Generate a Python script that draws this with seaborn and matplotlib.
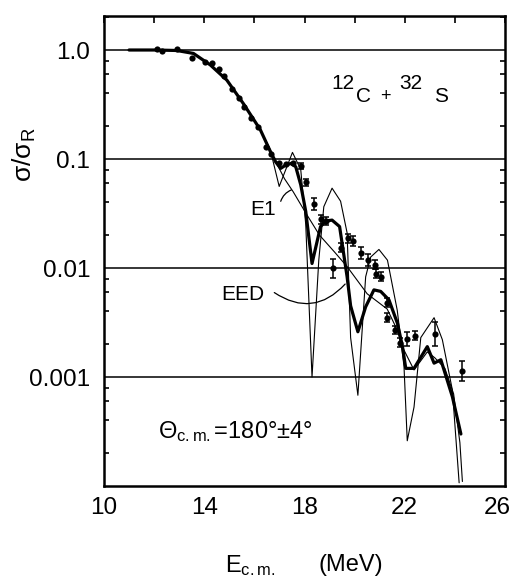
import numpy as np
import matplotlib
matplotlib.use("Agg")
import matplotlib.pyplot as plt
import matplotlib.transforms as mtransforms
import seaborn as sns

# ---- measured back-angle excitation function, 12C + 32S ----
e_data = [12.13, 12.32, 12.93, 13.52, 14.01, 14.31, 14.60, 14.80, 15.12, 15.39,
          15.60, 15.88, 16.15, 16.47, 16.67, 16.97, 17.27, 17.55, 17.86, 18.04,
          18.36, 18.64, 18.84, 19.12, 19.44, 19.73, 19.93, 20.24, 20.53, 20.81,
          20.84, 21.04, 21.31, 21.31, 21.60, 21.81, 22.10, 22.40, 23.20, 24.28]
sig_data = [1.02, 0.97, 1.02, 0.85, 0.77, 0.755, 0.665, 0.58, 0.44, 0.36,
            0.30, 0.236, 0.195, 0.13, 0.111, 0.091, 0.090, 0.0925, 0.086, 0.061,
            0.039, 0.028, 0.027, 0.0099, 0.0154, 0.0187, 0.0178, 0.0136, 0.0118, 0.0107,
            0.0089, 0.0083, 0.0048, 0.0035, 0.0027, 0.00206, 0.00222, 0.0024, 0.00248, 0.00114]
# uncertainties in decades (log10 units)
err_dex = [0, 0, 0, 0, 0, 0, 0, 0, 0, 0,
           0, 0, 0, 0, 0, 0, 0, 0, 0.03, 0.035,
           0.055, 0.04, 0.04, 0.085, 0.04, 0.04, 0.045, 0.055, 0.055, 0.04,
           0.04, 0.04, 0.04, 0.04, 0.04, 0.04, 0.065, 0.04, 0.11, 0.09]

# ---- model calculations ----
e_eed = [11.0, 12.0, 12.9, 13.57, 14.24, 14.9, 15.57, 16.24, 16.64, 16.85,
         17.05, 17.25, 17.45, 17.65, 17.85, 18.05, 18.3, 18.64, 18.85, 19.1,
         19.4, 19.7, 19.84, 20.13, 20.44, 20.77, 21.04, 21.37, 21.71, 21.91,
         22.04, 22.37, 22.9, 23.17, 23.44, 23.9, 24.24]
sig_eed = [1.0, 1.0, 0.99, 0.93, 0.73, 0.53, 0.32, 0.185, 0.117, 0.094,
           0.082, 0.088, 0.091, 0.085, 0.058, 0.033, 0.011, 0.024, 0.027, 0.0275,
           0.024, 0.0083, 0.0045, 0.0026, 0.0044, 0.0063, 0.0061, 0.0051, 0.0031, 0.0019,
           0.0012, 0.0012, 0.0019, 0.00134, 0.00144, 0.00066, 0.0003]

e_e1 = [11.0, 12.0, 12.9, 13.57, 14.24, 14.9, 15.57, 16.24, 16.64, 16.9,
        17.2, 17.55, 18.05, 18.6, 19.2, 19.7, 20.5, 21.3, 21.7, 21.9,
        22.37, 22.9, 23.2, 23.6, 23.95, 24.2, 24.3]
sig_e1 = [1.0, 1.0, 0.99, 0.93, 0.73, 0.53, 0.32, 0.185, 0.12, 0.09,
          0.066, 0.05, 0.032, 0.02, 0.014, 0.0103, 0.0058, 0.0042, 0.0027, 0.0019,
          0.00116, 0.0017, 0.0015, 0.0012, 0.0007, 0.00025, 0.00011]

e_osc = [11.0, 12.0, 12.9, 13.57, 14.24, 14.9, 15.57, 16.24, 16.64, 16.99,
         17.52, 17.85, 18.05, 18.3, 18.57, 18.77, 19.1, 19.44, 19.7, 19.84,
         20.13, 20.44, 20.64, 20.97, 21.31, 21.7, 21.97, 22.1, 22.37, 22.64,
         23.17, 23.5, 23.9, 24.17]
sig_osc = [1.0, 1.0, 0.99, 0.93, 0.73, 0.53, 0.32, 0.185, 0.12, 0.056,
           0.115, 0.08, 0.025, 0.001, 0.0118, 0.0365, 0.054, 0.041, 0.021, 0.0023,
           0.00068, 0.0083, 0.0126, 0.0148, 0.0118, 0.0041, 0.00125, 0.00026, 0.00053, 0.0023,
           0.0035, 0.0022, 0.00076, 0.000107]

x_ticks = [10, 12, 14, 16, 18, 20, 22, 24, 26]
x_ticklabels = ["10", "", "14", "", "18", "", "22", "", "26"]
y_ticks = [0.001, 0.01, 0.1, 1.0]
y_ticklabels = ["0.001", "0.01", "0.1", "1.0"]

sns.set_theme(style="white")
plt.rcParams["font.family"] = ["Liberation Sans", "DejaVu Sans"]
plt.rcParams["mathtext.fontset"] = "custom"
plt.rcParams["mathtext.rm"] = "Liberation Sans"
plt.rcParams["mathtext.it"] = "Liberation Sans"
plt.rcParams["mathtext.bf"] = "Liberation Sans"
plt.rcParams["text.color"] = "black"
plt.rcParams["axes.labelcolor"] = "black"
plt.rcParams["xtick.color"] = "black"
plt.rcParams["ytick.color"] = "black"

W, H = 513, 580
fig = plt.figure(figsize=(W / 100, H / 100), dpi=100)
fig.patch.set_facecolor("white")
ax = fig.add_axes([104 / W, 1 - 486 / H, (505 - 104) / W, (486 - 16) / H])
ax.set_yscale("log")
ax.set_xlim(10, 26)
ax.set_ylim(1e-4, 10 ** 0.312)

# decade lines across the frame
for yv in y_ticks:
    ax.axhline(yv, color="black", lw=1.1, zorder=1)

sns.lineplot(x=e_osc, y=sig_osc, ax=ax, color="black", lw=0.8,
             estimator=None, sort=False, zorder=2)
sns.lineplot(x=e_e1, y=sig_e1, ax=ax, color="black", lw=0.8,
             estimator=None, sort=False, zorder=2)
sns.lineplot(x=e_eed, y=sig_eed, ax=ax, color="black", lw=2.3,
             estimator=None, sort=False, zorder=3)

e_arr = np.array(e_data)
s_arr = np.array(sig_data)
d_arr = np.array(err_dex)
has_err = d_arr > 0
lo = s_arr * (1 - 10 ** (-d_arr))
hi = s_arr * (10 ** d_arr - 1)
ax.errorbar(e_arr[has_err], s_arr[has_err], yerr=[lo[has_err], hi[has_err]],
            fmt="none", ecolor="black", elinewidth=1.1, capsize=2.2, capthick=1.1, zorder=4)
sns.scatterplot(x=e_data, y=sig_data, ax=ax, color="black", s=20,
                edgecolor="black", linewidth=0, zorder=5)

# axes styling
for sp in ax.spines.values():
    sp.set_visible(True)
    sp.set_color("black")
    sp.set_linewidth(1.8)
ax.set_xticks(x_ticks)
ax.set_xticklabels(x_ticklabels)
ax.set_yticks(y_ticks)
ax.set_yticklabels(y_ticklabels)
ax.yaxis.set_minor_locator(matplotlib.ticker.LogLocator(base=10, subs=(2, 4, 6, 8), numticks=20))
ax.yaxis.set_minor_formatter(matplotlib.ticker.NullFormatter())
ax.tick_params(axis="both", which="major", direction="in", length=5, width=1.2,
               top=True, right=True, labelsize=17.5, pad=8, colors="black")
ax.tick_params(axis="y", which="minor", direction="in", length=3.5, width=1.2,
               left=True, right=True)
ax.tick_params(axis="y", which="major", length=0, pad=10)
ax.grid(False)
ax.set_xlabel("")
ax.set_ylabel("")

# keep the last energy label inside the frame edge
last = ax.get_xticklabels()[-1]
last.set_transform(last.get_transform() + mtransforms.ScaledTranslation(-8 / 100, 0, fig.dpi_scale_trans))


def px(x, y):
    return x / W, 1 - y / H


# axis titles
fig.text(*px(24, 155), r"$\mathrm{σ/σ}_{\mathrm{R}}$", rotation=90, fontsize=19,
         ha="center", va="center")
fig.text(*px(225, 572), r"E$_{\mathrm{c.m.}}$", fontsize=17, ha="left", va="baseline")
fig.text(*px(318, 571), "(MeV)", fontsize=17, ha="left", va="baseline")

# reaction label
fs = 15
fig.text(*px(331, 89), "12", fontsize=fs, ha="left", va="baseline")
fig.text(*px(356, 102), "C", fontsize=fs, ha="left", va="baseline")
fig.text(*px(385, 101), "+", fontsize=fs - 2, ha="center", va="baseline")
fig.text(*px(399, 89), "32", fontsize=fs, ha="left", va="baseline")
fig.text(*px(434, 102), "S", fontsize=fs, ha="left", va="baseline")

# angle label
fig.text(*px(158, 438), r"Θ$_{\mathrm{c.m.}}$=180°±4°", fontsize=17,
         ha="left", va="baseline")

# curve labels with leaders
fig.text(*px(250, 215), "E1", fontsize=15, ha="left", va="baseline")
fig.text(*px(221, 300), "EED", fontsize=15, ha="left", va="baseline")

ax.annotate("", xy=px(294, 189), xycoords="figure fraction",
            xytext=px(280, 204), textcoords="figure fraction",
            arrowprops=dict(arrowstyle="-", color="black", lw=0.9,
                            connectionstyle="arc3,rad=-0.3"))
ax.annotate("", xy=px(347, 282), xycoords="figure fraction",
            xytext=px(272, 291), textcoords="figure fraction",
            arrowprops=dict(arrowstyle="-", color="black", lw=0.9,
                            connectionstyle="arc3,rad=0.45"))

fig.savefig("out.png", dpi=100, facecolor="white")
